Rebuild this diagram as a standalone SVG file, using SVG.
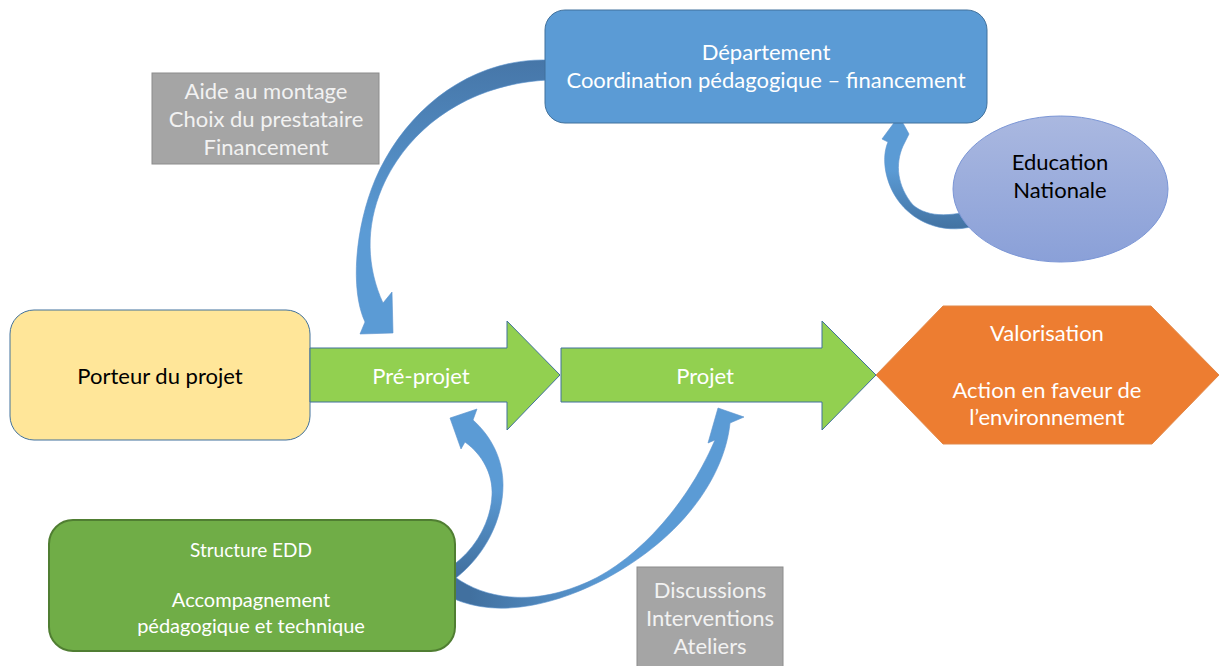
<svg xmlns="http://www.w3.org/2000/svg" width="1221" height="666" viewBox="0 0 1221 666">
<style>
.t{font-family:Lato,"Liberation Sans",sans-serif;font-size:22px;text-anchor:middle}
.w{fill:#ffffff}
.g{fill:#f2f2f2}
.k{fill:#000000}
.s{font-size:20px}
.s2{font-size:19px}
.ca{stroke:#5a92cc;stroke-width:0.6}
</style>
<defs>
<linearGradient id="gA1" gradientUnits="userSpaceOnUse" x1="0" y1="60" x2="0" y2="230">
<stop offset="0" stop-color="#4676a8"/><stop offset="1" stop-color="#5b9bd5"/>
</linearGradient>
<linearGradient id="gA2" gradientUnits="userSpaceOnUse" x1="0" y1="232" x2="0" y2="170">
<stop offset="0" stop-color="#41709f"/><stop offset="1" stop-color="#5b9bd5"/>
</linearGradient>
<linearGradient id="gA3" gradientUnits="userSpaceOnUse" x1="0" y1="575" x2="0" y2="490">
<stop offset="0" stop-color="#41709f"/><stop offset="1" stop-color="#5b9bd5"/>
</linearGradient>
<linearGradient id="gA4" gradientUnits="userSpaceOnUse" x1="470" y1="0" x2="610" y2="0">
<stop offset="0" stop-color="#41709f"/><stop offset="1" stop-color="#5b9bd5"/>
</linearGradient>
<linearGradient id="gEll" x1="0" y1="0" x2="0" y2="1">
<stop offset="0" stop-color="#aab8e0"/><stop offset="1" stop-color="#8aa0d8"/>
</linearGradient>
</defs>

<g id="connectors">
<path id="c-dep-pre" class="ca" fill="url(#gA1)" d="M 548,60 C 470,58 405,110 375,180 C 355,228 350,290 365,322 L 360,334 L 393,333 L 392,292 L 383,303 C 367,268 365,228 382,188 C 408,128 468,84 548,80 Z"/>
<path id="c-edu-dep" class="ca" fill="url(#gA2)" d="M 985,222 C 955,236 920,228 900,203 C 885,184 881,158 888,142 L 882,139 L 899,116 L 909,134 L 903,146 C 895,164 897,186 913,205 C 928,218 955,218 985,205 Z"/>
<path id="c-edd-pre" class="ca" fill="url(#gA3)" d="M 452,566 C 477,548 491,520 492,495 C 493,475 483,455 465,442 L 461,449 L 450,418 L 477,409 L 473,420 C 492,437 503,460 503,485 C 503,520 485,555 456,578 Z"/>
<path id="c-edd-proj" class="ca" fill="url(#gA4)" d="M 455,577 C 485,599 530,605 578,586 C 628,568 684,512 715,440 L 708,443 L 718,408 L 744,417 L 730,423 C 726,465 695,530 607,578 C 560,603 500,620 452,598 Z"/>
</g>

<g id="node-departement">
<rect x="545" y="10" width="442" height="113" rx="20" fill="#5b9bd5" stroke="#41719c" stroke-width="1"/>
<text class="t w" x="766" y="60">Département</text>
<text class="t w" x="766" y="88">Coordination pédagogique – financement</text>
</g>

<g id="node-aide">
<rect x="152" y="73" width="227" height="91" fill="#a5a5a5" stroke="#8c8c8c" stroke-width="1"/>
<text class="t g" x="266" y="99">Aide au montage</text>
<text class="t g" x="266" y="127">Choix du prestataire</text>
<text class="t g" x="266" y="155">Financement</text>
</g>

<g id="node-education">
<ellipse cx="1060.5" cy="189" rx="107.5" ry="73" fill="url(#gEll)" stroke="#7b96d6" stroke-width="1"/>
<text class="t k" x="1060" y="170">Education</text>
<text class="t k" x="1060" y="198">Nationale</text>
</g>

<g id="node-porteur">
<rect x="10" y="310" width="300" height="130" rx="24" fill="#ffe699" stroke="#41719c" stroke-width="1"/>
<text class="t k" x="160" y="384">Porteur du projet</text>
</g>

<g id="node-preprojet">
<polygon points="310,348 507,348 507,321 560,375 507,430 507,402 310,402" fill="#92d050" stroke="#41719c" stroke-width="1"/>
<text class="t w" x="421" y="384">Pré-projet</text>
</g>

<g id="node-projet">
<polygon points="561,348 822,348 822,321 876,375 822,430 822,402 561,402" fill="#92d050" stroke="#41719c" stroke-width="1"/>
<text class="t w" x="705" y="384">Projet</text>
</g>

<g id="node-valorisation">
<polygon points="876,375 943,306 1151,306 1219,375 1152,444 943,444" fill="#ed7d31" stroke="#e1894a" stroke-width="1"/>
<text class="t w" x="1047" y="341">Valorisation</text>
<text class="t w" x="1047" y="398">Action en faveur de</text>
<text class="t w" x="1047" y="425">l’environnement</text>
</g>

<g id="node-edd">
<rect x="49" y="520" width="406" height="131" rx="24" fill="#70ad47" stroke="#507e32" stroke-width="2"/>
<text class="t w s2" x="251" y="557">Structure EDD</text>
<text class="t w s" x="251" y="607">Accompagnement</text>
<text class="t w s" x="251" y="633">pédagogique et technique</text>
</g>

<g id="node-discussions">
<rect x="637" y="567" width="146" height="110" fill="#a5a5a5" stroke="#8c8c8c" stroke-width="1"/>
<text class="t g" x="710" y="598">Discussions</text>
<text class="t g" x="710" y="626">Interventions</text>
<text class="t g" x="710" y="654">Ateliers</text>
</g>
</svg>
